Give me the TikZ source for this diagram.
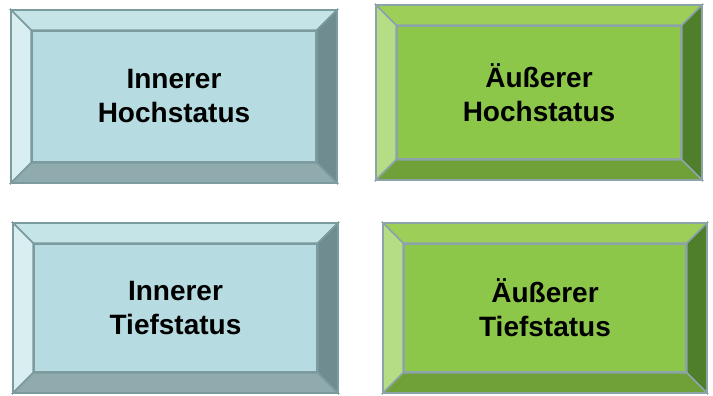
\documentclass[tikz,border=0pt]{standalone}
\usepackage{fontspec}
\setmainfont{Liberation Sans}

\definecolor{blueface}{HTML}{B6DCE1}
\definecolor{bluetop}{HTML}{C5E4E7}
\definecolor{blueleft}{HTML}{D9EEF0}
\definecolor{blueright}{HTML}{6F8D90}
\definecolor{bluebottom}{HTML}{90ABAE}
\definecolor{blueline}{HTML}{7C9B9E}
\definecolor{greenface}{HTML}{8DC74A}
\definecolor{greentop}{HTML}{9DCF58}
\definecolor{greenleft}{HTML}{B5DD86}
\definecolor{greenright}{HTML}{4F7F2B}
\definecolor{greenbottom}{HTML}{70A038}
\definecolor{greenline}{HTML}{8CA3A8}

\begin{document}
\begin{tikzpicture}[x=1pt,y=-1pt,line width=1.6pt,line join=miter,
    blue face/.style={fill=blueface,draw=blueline},
    blue top/.style={fill=bluetop,draw=blueline},
    blue left/.style={fill=blueleft,draw=blueline},
    blue right/.style={fill=blueright,draw=blueline},
    blue bottom/.style={fill=bluebottom,draw=blueline},
    green face/.style={fill=greenface,draw=greenline},
    green top/.style={fill=greentop,draw=greenline},
    green left/.style={fill=greenleft,draw=greenline},
    green right/.style={fill=greenright,draw=greenline},
    green bottom/.style={fill=greenbottom,draw=greenline},
    status/.style={inner sep=0pt,align=center,
      font=\bfseries\fontsize{28}{34}\selectfont}]
  \useasboundingbox (0,0) rectangle (713,396);

  \foreach \nm/\x/\y/\w/\h/\c/\txt in {
      innhoch/11/10/326/173/blue/{Innerer\\Hochstatus},
      ausshoch/376/5/326/175/green/{Äußerer\\Hochstatus},
      inntief/13/223/325/170/blue/{Innerer\\Tiefstatus},
      ausstief/383/223/324/170/green/{Äußerer\\Tiefstatus}}
  {
    \coordinate (\nm-nw) at (\x,\y);
    \coordinate (\nm-ne) at (\x+\w,\y);
    \coordinate (\nm-se) at (\x+\w,\y+\h);
    \coordinate (\nm-sw) at (\x,\y+\h);
    \node[\c\space face,status,minimum width=\w pt-42pt,
      minimum height=\h pt-42pt,text width=\w pt-60pt] (\nm)
      at (\x+\w/2,\y+\h/2) {};
    % bevels round the face
    \path[\c\space top] (\nm-nw) -- (\nm-ne) -- (\nm.north east)
      -- (\nm.north west) -- cycle;
    \path[\c\space left] (\nm-nw) -- (\nm.north west) -- (\nm.south west)
      -- (\nm-sw) -- cycle;
    \path[\c\space right] (\nm-ne) -- (\nm-se) -- (\nm.south east)
      -- (\nm.north east) -- cycle;
    \path[\c\space bottom] (\nm-sw) -- (\nm.south west) -- (\nm.south east)
      -- (\nm-se) -- cycle;
    \node[\c\space face,status,minimum width=\w pt-42pt,
      minimum height=\h pt-42pt,text width=\w pt-60pt]
      at (\nm) {\txt};
  }
\end{tikzpicture}
\end{document}
